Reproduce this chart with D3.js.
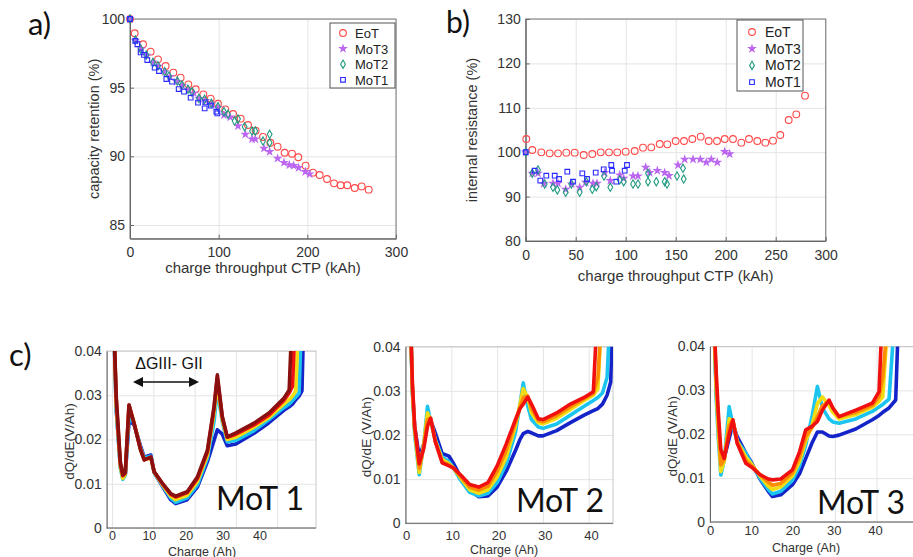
<!DOCTYPE html>
<html>
<head>
<meta charset="utf-8">
<script src="https://cdn.jsdelivr.net/npm/d3@7"></script>
<style>
  body { margin: 0; background: #fff; }
  text { font-family: "Liberation Sans", Arial, sans-serif; }
  .grid line { stroke: #e4e4e4; stroke-width: 1; }
  .grid path { display: none; }
  .axis path, .axis line { stroke: #666; }
  .axis text { fill: #333; }
  .big { font-family: Lato, "Open Sans", sans-serif; fill: #111; }
</style>
</head>
<body>
<svg id="figure" width="913" height="557"></svg>
<script>
// ---------- panel a: capacity retention (%) vs CTP (kAh)
const capEoT = [[0,100],[5.3,98.96],[14.7,98.16],[23.3,97.62],[31.6,97.06],[40.2,96.58],[48.9,96.09],[57.1,95.73],[65.8,95.24],[74.1,94.88],[82.7,94.51],[91.0,94.2],[99.2,93.83],[107.5,93.42],[116.2,93.08],[124.8,92.74],[133.1,92.28],[141.7,91.87],[150.0,91.41],[158.3,90.99],[166.5,90.70],[174.4,90.26],[182.7,90.19],[189.8,89.93],[198.1,89.32],[206.4,88.81],[213.9,88.64],[222.2,88.35],[230.1,88.03],[237.6,87.89],[245.1,87.89],[253.4,87.69],[261.3,87.81],[269.2,87.57]];
const capMoT3 = [[0,100],[6.0,98.45],[12.5,97.8],[19,97.35],[26,96.85],[32,96.55],[39,96.15],[45,95.8],[53,95.45],[59,95.15],[66,94.85],[72,94.6],[78,94.2],[85,94.05],[92,93.8],[99,93.55],[106.0,93.01],[113,92.85],[121.8,92.21],[130.1,91.6],[137.6,91.26],[141.3,91.26],[151.1,90.58],[157.5,90.34],[166.5,89.85],[173.7,89.54],[179.7,89.37],[184.6,89.32],[190.2,89.17],[197.7,88.88],[202.6,88.71]];
const capMoT2 = [[0,100],[6.0,98.47],[12.0,97.82],[18.4,97.38],[25.9,96.84],[31.6,96.6],[39.1,96.16],[44.0,95.85],[53.4,95.48],[58.6,95.19],[65.4,94.88],[69.9,94.71],[77.8,94.22],[84.2,94.15],[91.7,93.86],[99.2,93.61],[106.0,93.25],[110.5,93.06],[118.0,92.57],[121.8,92.72],[129.3,92.16],[137.6,91.84],[141.3,91.84],[150.0,91.11],[157.5,91.6],[157.5,90.99]];
const capMoT1 = [[0,100],[6.0,98.4],[8.3,98.16],[12.0,97.57],[15.8,97.38],[19.5,97.01],[27.8,96.46],[32.7,96.21],[41.0,95.63],[47.4,95.44],[54.9,94.9],[60.9,94.71],[68.4,94.27],[76.7,93.91],[84.2,93.49],[85.0,93.93],[91.0,93.69],[97.4,93.25],[98.5,93.13]];

// ---------- panel b: internal resistance (%) vs CTP (kAh)
const resEoT = [[0.6,102.97],[6.6,100.5],[15.6,99.97],[24,99.75],[32.3,99.75],[40.6,99.9],[49,99.9],[58,99.37],[66.6,99.6],[75,99.97],[83.3,99.97],[91.6,99.97],[100,100.12],[109,100.27],[117.3,101.02],[125.6,101.1],[134,101.85],[141.6,101.77],[150,102.52],[158.3,102.52],[166.6,102.97],[175,103.5],[183,102.52],[191.3,102.52],[199,102.97],[207.3,102.97],[215.6,102.15],[223.3,102.97],[231.6,102.52],[239.6,102.15],[247.3,102.6],[254.6,103.87],[263,107.25],[270.6,108.53],[279.3,112.73]];
const resMoT3 = [[0,100],[6.6,95.24],[12.3,95.24],[18,92.9],[27.3,92.99],[32.3,92.99],[40,91.64],[46,92.8],[54,92.09],[60,93.2],[67.3,92.99],[71.3,92.99],[79,95.39],[84.6,93.59],[94,94.86],[98,94.11],[107.3,94.64],[112.3,94.64],[120,96.59],[124,95.39],[131.6,95.84],[139,95.39],[143.3,94.71],[152.3,97.12],[159,98.39],[167.3,98.39],[174.6,98.39],[180.6,97.72],[185.6,98.39],[191.6,97.72],[199,100.12],[204,99.6]];
const resMoT2 = [[0,100],[6.6,95.24],[12.3,95.99],[19,92.84],[27.3,92.09],[31.6,91.49],[40,90.96],[45.6,92.84],[54,90.96],[60.6,93.36],[66.6,91.64],[70.6,92.24],[78.3,94.64],[84.6,92.09],[94,93.74],[98,93.36],[107.3,92.84],[112.3,92.84],[122.3,95.24],[122.3,93.36],[130.6,93.36],[139,93.36],[141.3,92.84],[151.3,94.64],[157.3,96.37],[158,93.96]];
const resMoT1 = [[0,100],[9,95.84],[14.6,93.59],[20.6,94.71],[29,94.71],[33.3,93.96],[41.6,95.61],[47.3,93.36],[56.6,95.24],[61.3,93.96],[70,95.39],[78,96.14],[85.6,97.12],[86.3,95.84],[90.6,93.36],[99,95.84],[101.3,97.12]];

const seriesNames = ["EoT", "MoT3", "MoT2", "MoT1"];
const ctpTicksA = [0, 100, 200, 300];
const capTicks = [85, 90, 95, 100];
const ctpTicksB = [0, 50, 100, 150, 200, 250, 300];
const resTicks = [80, 90, 100, 110, 120, 130];

// ---------- panel c: dQ/dE (V/Ah) vs charge (Ah), first (blue) to last (red) cycles
const mot1Charge = [0.3,1,2,2.6,3.2,4.1,5.3,6.9,7.8,9.4,10.2,12.2,14.2,15.4,18.2,20.7,23.1,24.7,25.5,26.7,27.9,30,34.4,38,41.6,42.9,43.7,44.5,45.3,46,46.5];
const mot1Blue    = [0.05,0.027,0.014,0.0115,0.012,0.024,0.0235,0.0185,0.016,0.0165,0.0125,0.0094,0.0064,0.0055,0.0064,0.0093,0.015,0.0198,0.0222,0.0212,0.0186,0.019,0.0214,0.0238,0.0266,0.0274,0.028,0.029,0.0298,0.031,0.05];
const mot1Cyan    = [0.05,0.027,0.0135,0.011,0.012,0.025,0.0238,0.018,0.0158,0.0162,0.0125,0.0096,0.0068,0.0058,0.0068,0.0098,0.0158,0.024,0.031,0.024,0.0195,0.0198,0.022,0.0245,0.0272,0.028,0.0288,0.0296,0.0305,0.05,0.05];
const mot1Yellow  = [0.05,0.028,0.014,0.0112,0.0122,0.0275,0.024,0.0178,0.0155,0.0158,0.0126,0.0098,0.0072,0.0064,0.0074,0.0106,0.0165,0.026,0.0325,0.0245,0.02,0.0205,0.0228,0.025,0.028,0.029,0.0298,0.031,0.05,0.05,0.05];
const mot1Red     = [0.05,0.029,0.0145,0.0118,0.0124,0.0278,0.0238,0.0178,0.0154,0.016,0.0127,0.01,0.0076,0.007,0.008,0.0112,0.0172,0.027,0.034,0.025,0.0205,0.0212,0.0233,0.0255,0.0288,0.0305,0.032,0.05,0.05,0.05,0.05];
const mot1DarkRed = [0.05,0.03,0.015,0.012,0.0125,0.0278,0.0237,0.0176,0.0154,0.016,0.0127,0.0101,0.0078,0.0072,0.0082,0.0116,0.0176,0.0274,0.0346,0.0252,0.0206,0.0215,0.0237,0.026,0.0293,0.0312,0.05,0.05,0.05,0.05,0.05];

const mot2Charge = [1,1.5,2,3,4,4.8,5.5,6.5,8,9.5,10.5,12,14,16,18,20,22,24,25,25.7,26.7,27.5,29,30,33,36,39,41,42,43,44,44.8,45.3];
const mot2Blue   = [0.05,0.03,0.022,0.015,0.018,0.0225,0.0233,0.0205,0.0158,0.0152,0.0135,0.0105,0.0075,0.006,0.0062,0.0082,0.0118,0.0165,0.019,0.0203,0.0208,0.0205,0.0198,0.0198,0.021,0.0228,0.0245,0.0255,0.026,0.027,0.029,0.032,0.05];
const mot2Cyan   = [0.05,0.03,0.02,0.011,0.018,0.0265,0.023,0.019,0.015,0.014,0.0125,0.0098,0.007,0.0062,0.0068,0.0092,0.0135,0.0205,0.027,0.0318,0.0265,0.0235,0.0218,0.0215,0.0225,0.0245,0.0265,0.0278,0.0285,0.0295,0.033,0.05,0.05];
const mot2Yellow = [0.05,0.03,0.021,0.0115,0.018,0.025,0.0235,0.0188,0.0145,0.0135,0.0125,0.0103,0.0076,0.0068,0.0076,0.0105,0.015,0.022,0.027,0.0305,0.0285,0.025,0.0228,0.0225,0.0238,0.0258,0.0278,0.029,0.0305,0.05,0.05,0.05,0.05];
const mot2Orange = [0.05,0.031,0.0215,0.0125,0.0175,0.0235,0.0237,0.0186,0.014,0.0132,0.0125,0.0106,0.0082,0.0075,0.0084,0.0118,0.0165,0.0228,0.0262,0.0285,0.0288,0.026,0.0233,0.023,0.0244,0.0264,0.0282,0.0294,0.033,0.05,0.05,0.05,0.05];
const mot2Red    = [0.05,0.032,0.022,0.0135,0.017,0.022,0.0238,0.0185,0.0137,0.013,0.0125,0.011,0.0088,0.0082,0.0092,0.013,0.018,0.0235,0.026,0.027,0.0286,0.027,0.0237,0.0235,0.025,0.027,0.0285,0.0298,0.05,0.05,0.05,0.05,0.05];

const mot3Charge = [0.8,1.5,2,2.6,3.4,4.6,5.5,6.5,8.6,10,12,14,15,17,19.8,21.5,23,24.5,25.8,27,28.6,29.5,31,35,39,40.6,41.5,43,44.6,45.4,46.5];
const mot3Blue   = [0.05,0.03,0.022,0.0155,0.0145,0.019,0.0225,0.0195,0.0157,0.0135,0.0098,0.007,0.0058,0.0062,0.0085,0.011,0.0145,0.018,0.0205,0.0205,0.0196,0.0195,0.0198,0.0212,0.0233,0.0243,0.025,0.026,0.0278,0.05,0.05];
const mot3Cyan   = [0.05,0.028,0.019,0.0107,0.014,0.0263,0.022,0.0185,0.0157,0.0132,0.01,0.0074,0.0064,0.007,0.0095,0.0128,0.0175,0.024,0.0309,0.026,0.0235,0.0228,0.0225,0.0235,0.0252,0.0262,0.0268,0.028,0.05,0.05,0.05];
const mot3Yellow = [0.05,0.03,0.021,0.0115,0.0138,0.0235,0.023,0.0185,0.0148,0.0132,0.0105,0.0082,0.0074,0.008,0.0105,0.0138,0.0185,0.022,0.027,0.0285,0.0265,0.025,0.0235,0.0245,0.0262,0.0275,0.0285,0.05,0.05,0.05,0.05];
const mot3Orange = [0.05,0.032,0.023,0.013,0.0142,0.022,0.0232,0.0183,0.014,0.0128,0.0108,0.009,0.0084,0.0088,0.0112,0.0148,0.0195,0.0215,0.024,0.0265,0.0275,0.026,0.024,0.025,0.0266,0.0285,0.033,0.05,0.05,0.05,0.05];
const mot3Red    = [0.05,0.034,0.025,0.0165,0.0145,0.02,0.0233,0.018,0.0134,0.0125,0.0108,0.0098,0.0096,0.0098,0.0119,0.016,0.021,0.0218,0.0229,0.0255,0.0278,0.026,0.024,0.0255,0.0271,0.0297,0.05,0.05,0.05,0.05,0.05];

const dqdeTicks = [0, 0.01, 0.02, 0.03, 0.04];
const chargeTicks = [0, 10, 20, 30, 40];

const svg = d3.select("#figure");

const markerStyle = {
    "EoT":  {type: d3.symbolCircle,  size: 36, color: "#ff4848", fill: false},
    "MoT3": {type: d3.symbolStar,    size: 13, color: "#bb66f0", fill: true},
    "MoT2": {type: d3.symbolDiamond, size: 20, color: "#1f9a80", fill: false},
    "MoT1": {type: d3.symbolSquare,  size: 22, color: "#2a2aff", fill: false}
};

function drawScatterPanel(cfg) {
    const x = d3.scaleLinear().domain(cfg.xDomain).range(cfg.xRange);
    const y = d3.scaleLinear().domain(cfg.yDomain).range(cfg.yRange);
    const g = svg.append("g");
    const h = cfg.yRange[0] - cfg.yRange[1];
    const w = cfg.xRange[1] - cfg.xRange[0];

    g.append("g").attr("class", "grid")
        .attr("transform", "translate(0," + cfg.yRange[0] + ")")
        .call(d3.axisBottom(x).tickValues(cfg.xTicks).tickSize(-h).tickFormat(""));
    g.append("g").attr("class", "grid")
        .attr("transform", "translate(" + cfg.xRange[0] + ",0)")
        .call(d3.axisLeft(y).tickValues(cfg.yTicks).tickSize(-w).tickFormat(""));

    g.append("rect")
        .attr("x", cfg.xRange[0]).attr("y", cfg.yRange[1])
        .attr("width", w).attr("height", h)
        .attr("fill", "none").attr("stroke", "#777");

    g.append("g").attr("class", "axis")
        .attr("transform", "translate(0," + cfg.yRange[0] + ")")
        .call(d3.axisBottom(x).tickValues(cfg.xTicks).tickSize(-4).tickSizeOuter(0).tickPadding(cfg.xPad))
        .selectAll("text").style("font-size", "14px");
    g.append("g").attr("class", "axis")
        .attr("transform", "translate(" + cfg.xRange[0] + ",0)")
        .call(d3.axisLeft(y).tickValues(cfg.yTicks).tickSize(-4).tickSizeOuter(0).tickPadding(5))
        .selectAll("text").style("font-size", "14px");

    cfg.series.forEach((data, i) => {
        const st = markerStyle[seriesNames[i]];
        g.selectAll(null).data(data).join("path")
            .attr("d", d3.symbol().type(st.type).size(st.size))
            .attr("transform", d => "translate(" + x(d[0]) + "," + y(d[1]) + ")")
            .attr("fill", st.fill ? st.color : "none")
            .attr("stroke", st.color)
            .attr("stroke-width", 1.1);
    });

    // legend
    const lg = cfg.legend;
    g.append("rect").attr("x", lg.x).attr("y", lg.y)
        .attr("width", lg.w).attr("height", lg.h)
        .attr("fill", "#fff").attr("stroke", "#555");
    seriesNames.forEach((name, i) => {
        const st = markerStyle[name];
        const yy = lg.y + lg.first + i * lg.step;
        g.append("path")
            .attr("d", d3.symbol().type(st.type).size(st.size)())
            .attr("transform", "translate(" + (lg.x + lg.marker) + "," + yy + ")")
            .attr("fill", st.fill ? st.color : "none")
            .attr("stroke", st.color).attr("stroke-width", 1.1);
        g.append("text").attr("x", lg.x + lg.text).attr("y", yy + 5)
            .style("font-size", lg.font + "px").attr("fill", "#222").text(name);
    });

    g.append("text")
        .attr("transform", "translate(" + cfg.yLabelX + "," + (cfg.yRange[0] + cfg.yRange[1]) / 2 + ") rotate(-90)")
        .attr("text-anchor", "middle").style("font-size", "14.5px").attr("fill", "#333")
        .text(cfg.yLabel);
    g.append("text")
        .attr("x", (cfg.xRange[0] + cfg.xRange[1]) / 2).attr("y", cfg.xLabelY)
        .attr("text-anchor", "middle").style("font-size", "15px").attr("fill", "#333")
        .text("charge throughput CTP (kAh)");
    return g;
}

const jet = {blue: "#1424c8", cyan: "#1cc4f0", yellow: "#f2dc12", orange: "#ff8c00", red: "#f01010", darkred: "#8a1010"};

function drawDqdePanel(cfg) {
    const x = d3.scaleLinear().domain(cfg.xDomain).range(cfg.xRange);
    const xLab = d3.scaleLinear().domain([0, 40]).range(cfg.labelRange);
    const y = d3.scaleLinear().domain([0, 0.04]).range(cfg.yRange);
    const g = svg.append("g");
    const h = cfg.yRange[0] - cfg.yRange[1];
    const w = cfg.xRange[1] - cfg.xRange[0];

    g.append("g").attr("class", "grid")
        .attr("transform", "translate(0," + cfg.yRange[0] + ")")
        .call(d3.axisBottom(x).tickValues(chargeTicks).tickSize(-h).tickFormat(""));
    g.append("g").attr("class", "grid")
        .attr("transform", "translate(" + cfg.xRange[0] + ",0)")
        .call(d3.axisLeft(y).tickValues(dqdeTicks).tickSize(-w).tickFormat(""));
    g.append("rect")
        .attr("x", cfg.xRange[0]).attr("y", cfg.yRange[1])
        .attr("width", w).attr("height", h)
        .attr("fill", "none").attr("stroke", "#c8c8c8");

    const clipId = "clip-" + cfg.id;
    svg.append("clipPath").attr("id", clipId).append("rect")
        .attr("x", cfg.xRange[0]).attr("y", cfg.yRange[1])
        .attr("width", w).attr("height", h);

    const line = d3.line().x(d => x(d[0])).y(d => y(d[1]));
    const curves = g.append("g").attr("clip-path", "url(#" + clipId + ")");
    cfg.curves.forEach(c => {
        const pts = cfg.charge.map((q, i) => [q, c.values[i]]);
        curves.append("path").datum(pts)
            .attr("d", line)
            .attr("fill", "none")
            .attr("stroke", jet[c.color])
            .attr("stroke-width", 3.6)
            .attr("stroke-linejoin", "round");
    });

    g.append("g").attr("class", "axis")
        .attr("transform", "translate(0," + cfg.yRange[0] + ")")
        .call(d3.axisBottom(xLab).tickValues(chargeTicks).tickSize(0).tickPadding(cfg.xPad))
        .call(a => a.select(".domain").remove())
        .selectAll("text").style("font-size", cfg.tickFont + "px");
    g.append("line")
        .attr("x1", cfg.xRange[0]).attr("x2", cfg.xRange[1])
        .attr("y1", cfg.yRange[0]).attr("y2", cfg.yRange[0])
        .attr("stroke", "#666");
    g.append("g").attr("class", "axis")
        .attr("transform", "translate(" + cfg.xRange[0] + ",0)")
        .call(d3.axisLeft(y).tickValues(dqdeTicks).tickSize(0).tickPadding(5).tickFormat(d => d === 0 ? "0" : d3.format(".2f")(d)))
        .selectAll("text").style("font-size", "14px");

    g.append("text")
        .attr("transform", "translate(" + cfg.yLabelX + "," + ((cfg.yRange[0] + cfg.yRange[1]) / 2 + 2) + ") rotate(-90)")
        .attr("text-anchor", "middle").style("font-size", "13.5px").attr("fill", "#333")
        .text(cfg.yLabel);
    g.append("text")
        .attr("x", cfg.xLabelX).attr("y", cfg.xLabelY)
        .attr("text-anchor", "middle").style("font-size", "12.5px").attr("fill", "#333")
        .text("Charge (Ah)");
    g.append("text").attr("class", "big")
        .attr("x", cfg.nameX).attr("y", cfg.nameY)
        .attr("text-anchor", "end").style("font-size", "32px")
        .text(cfg.name);
    return g;
}

drawScatterPanel({
    xDomain: [0, 300], xRange: [130, 396],
    yDomain: [84, 100], yRange: [238.7, 19],
    xTicks: ctpTicksA, yTicks: capTicks, xPad: 8,
    series: [capEoT, capMoT3, capMoT2, capMoT1],
    legend: {x: 330, y: 23, w: 65, h: 65, first: 10, step: 15.6, marker: 13, text: 25, font: 13},
    yLabel: "capacity retention (%)", yLabelX: 99, xLabelY: 273
});

drawScatterPanel({
    xDomain: [0, 300], xRange: [525.7, 825.7],
    yDomain: [80, 130], yRange: [241, 19],
    xTicks: ctpTicksB, yTicks: resTicks, xPad: 9,
    series: [resEoT, resMoT3, resMoT2, resMoT1],
    legend: {x: 737, y: 20, w: 66, h: 71, first: 12, step: 16.7, marker: 15, text: 28, font: 14},
    yLabel: "internal resistance (%)", yLabelX: 477, xLabelY: 281
});

drawDqdePanel({
    id: "mot1", name: "MoT 1", yLabel: "dQ/dE(V/Ah)",
    xDomain: [-1.3, 49.4], xRange: [106.7, 316], labelRange: [112, 259.5],
    yRange: [528, 351], xPad: 3, tickFont: 12.5,
    charge: mot1Charge,
    curves: [
        {color: "blue", values: mot1Blue},
        {color: "cyan", values: mot1Cyan},
        {color: "yellow", values: mot1Yellow},
        {color: "red", values: mot1Red},
        {color: "darkred", values: mot1DarkRed}
    ],
    yLabelX: 74, xLabelX: 202, xLabelY: 555.5, nameX: 304, nameY: 510
});

drawDqdePanel({
    id: "mot2", name: "MoT 2", yLabel: "dQ/dE (V/Ah)",
    xDomain: [0, 45.3], xRange: [405.5, 613], labelRange: [406, 591],
    yRange: [523.3, 346.7], xPad: 7, tickFont: 13,
    charge: mot2Charge,
    curves: [
        {color: "blue", values: mot2Blue},
        {color: "cyan", values: mot2Cyan},
        {color: "yellow", values: mot2Yellow},
        {color: "orange", values: mot2Orange},
        {color: "red", values: mot2Red}
    ],
    yLabelX: 371, xLabelX: 504, xLabelY: 554, nameX: 604, nameY: 512
});

drawDqdePanel({
    id: "mot3", name: "MoT 3", yLabel: "dQ/dE (V/Ah)",
    xDomain: [0, 49], xRange: [710, 914], labelRange: [710, 875],
    yRange: [522, 346.5], xPad: 4, tickFont: 13,
    charge: mot3Charge,
    curves: [
        {color: "blue", values: mot3Blue},
        {color: "cyan", values: mot3Cyan},
        {color: "yellow", values: mot3Yellow},
        {color: "orange", values: mot3Orange},
        {color: "red", values: mot3Red}
    ],
    yLabelX: 677, xLabelX: 806, xLabelY: 552, nameX: 905, nameY: 514
});

// the double arrow over the MoT 1 plot
const arrowY = 382, arrowL = 133, arrowR = 199;
svg.append("line").attr("x1", arrowL + 6).attr("x2", arrowR - 6)
    .attr("y1", arrowY).attr("y2", arrowY).attr("stroke", "#111").attr("stroke-width", 1.6);
svg.append("path").attr("fill", "#111")
    .attr("d", "M" + arrowL + "," + arrowY + "l10,-5l0,10z");
svg.append("path").attr("fill", "#111")
    .attr("d", "M" + arrowR + "," + arrowY + "l-10,-5l0,10z");
svg.append("text").attr("x", 169).attr("y", 369)
    .attr("text-anchor", "middle").style("font-size", "16px").attr("fill", "#111")
    .text("ΔGIII- GII");

// panel letters
svg.append("text").attr("class", "big").attr("x", 28).attr("y", 35).style("font-size", "31px").text("a)");
svg.append("text").attr("class", "big").attr("x", 446).attr("y", 33).style("font-size", "30px").text("b)");
svg.append("text").attr("class", "big").attr("x", 9).attr("y", 366).style("font-size", "31px").text("c)");
</script>
</body>
</html>
